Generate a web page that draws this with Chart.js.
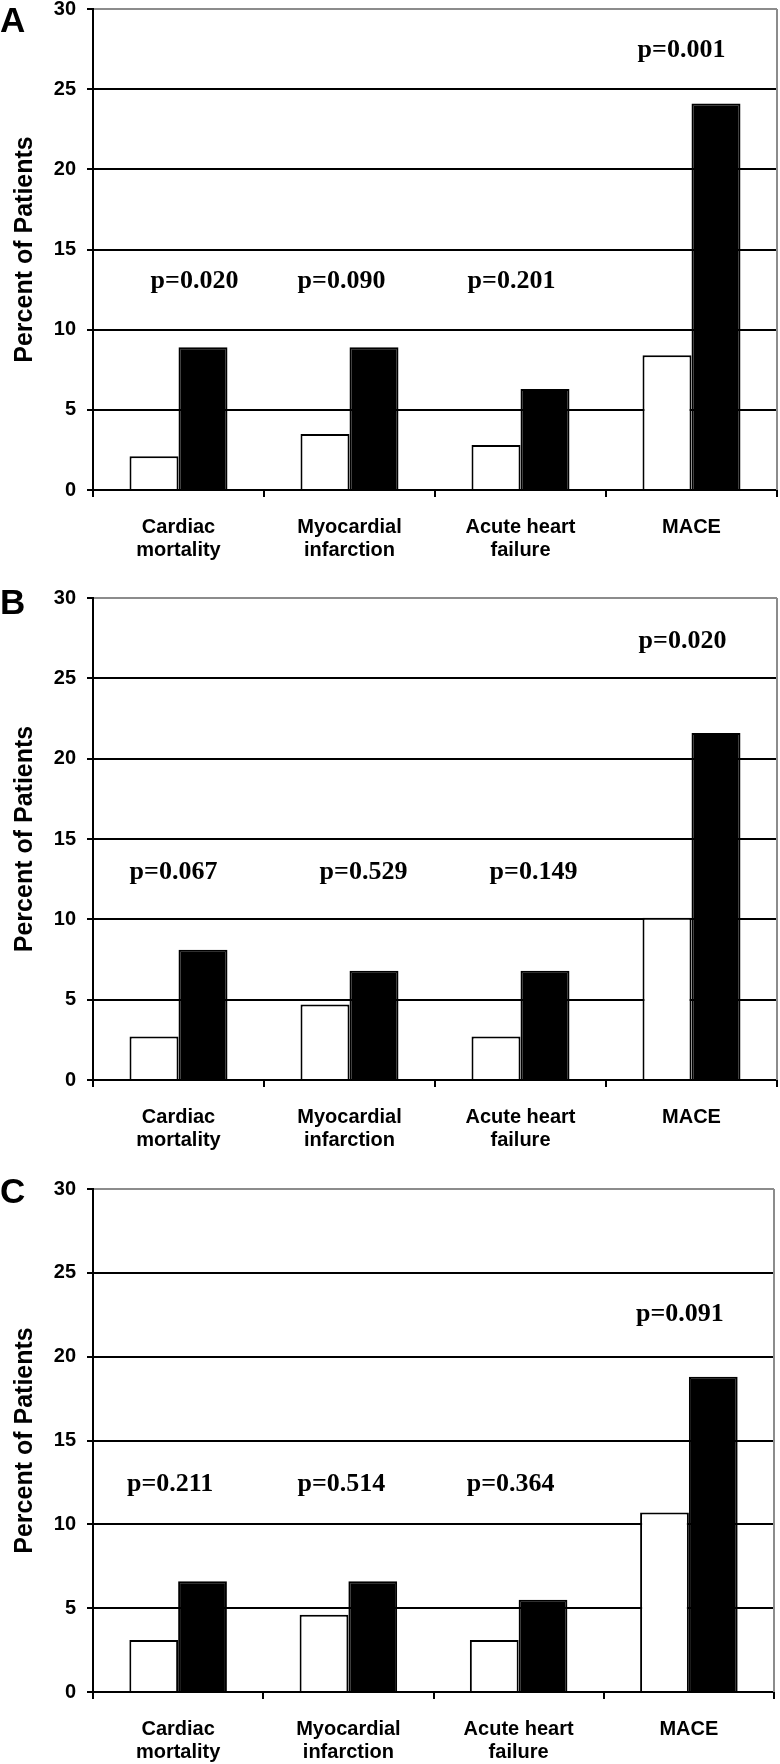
<!DOCTYPE html>
<html><head><meta charset="utf-8">
<script src="https://cdn.jsdelivr.net/npm/chart.js@4.4.0/dist/chart.umd.min.js"></script>
<style>
html,body{margin:0;padding:0;background:#fff;width:780px;height:1764px;overflow:hidden}
.panel{position:absolute;left:0;width:780px}
.panel canvas{display:block}
.letter{position:absolute;left:0;font:bold 35px "Liberation Sans",Arial,sans-serif;line-height:1;color:#000}
</style></head><body>
<div class="panel" style="top:0"><canvas id="cA"></canvas></div>
<div class="panel" style="top:560px"><canvas id="cB"></canvas></div>
<div class="panel" style="top:1160px"><canvas id="cC"></canvas></div>
<div class="letter" style="top:2px">A</div>
<div class="letter" style="top:584px">B</div>
<div class="letter" style="top:1173px">C</div>
<script>
// ---- data ----
const categories = [['Cardiac','mortality'], ['Myocardial','infarction'], ['Acute heart','failure'], 'MACE'];
const seriesNames = ['Group 1', 'Group 2'];
const yTicks = [0, 5, 10, 15, 20, 25, 30];

const whiteA = [2.1, 3.5, 2.8, 8.4];
const blackA = [8.9, 8.9, 6.3, 24.1];
const pA = ['p=0.020', 'p=0.090', 'p=0.201', 'p=0.001'];

const whiteB = [2.7, 4.7, 2.7, 10.1];
const blackB = [8.1, 6.8, 6.8, 21.6];
const pB = ['p=0.067', 'p=0.529', 'p=0.149', 'p=0.020'];

const whiteC = [3.1, 4.6, 3.1, 10.7];
const blackC = [6.6, 6.6, 5.5, 18.8];
const pC = ['p=0.211', 'p=0.514', 'p=0.364', 'p=0.091'];

// ---- rendering ----
Chart.defaults.color = '#000';
const SANS = '"Liberation Sans", Arial, sans-serif';
const SERIF = '"Liberation Serif", "Times New Roman", serif';

const pLabelPlugin = {
  id: 'pLabels',
  afterDatasetsDraw(chart, args, opts) {
    const {ctx} = chart;
    const x = chart.scales.x, y = chart.scales.y;
    const a = chart.chartArea;
    ctx.save();
    ctx.strokeStyle = '#8c8c8c'; ctx.lineWidth = 2;
    ctx.beginPath(); ctx.moveTo(a.right, a.top); ctx.lineTo(a.right, a.bottom); ctx.stroke();
    ctx.font = 'bold 26px ' + SERIF;
    ctx.fillStyle = '#000'; ctx.textAlign = 'center'; ctx.textBaseline = 'middle';
    opts.labels.forEach((t, i) => {
      ctx.fillText(t, x.getPixelForValue(i) + opts.dx[i], y.getPixelForValue(opts.at[i]));
    });
    ctx.restore();
  }
};

function makePanel(id, white, black, labels, cfg) {
  const canvas = document.getElementById(id);
  canvas.width = 780; canvas.height = cfg.height;
  canvas.style.width = '780px'; canvas.style.height = cfg.height + 'px';
  new Chart(canvas, {
    type: 'bar',
    data: {
      labels: categories,
      datasets: [
        {label: seriesNames[0], data: white, backgroundColor: '#fff', borderColor: '#000', borderWidth: 2},
        {label: seriesNames[1], data: black, backgroundColor: '#000', borderColor: '#000', borderWidth: 2}
      ]
    },
    options: {
      responsive: false, animation: false, devicePixelRatio: 1,
      layout: {padding: {top: cfg.padTop, right: cfg.padRight, bottom: 0, left: 0}},
      datasets: {bar: {categoryPercentage: 0.573, barPercentage: 1}},
      plugins: {
        legend: {display: false}, tooltip: {enabled: false},
        pLabels: {labels: labels, at: cfg.pAt, dx: cfg.pDx}
      },
      scales: {
        x: {
          offset: true,
          grid: {offset: true, drawOnChartArea: false, drawTicks: true, tickLength: 7, color: '#000', lineWidth: 2},
          border: {display: true, color: '#000', width: 2},
          ticks: {font: {family: SANS, weight: 'bold', size: 20, lineHeight: 1.15}, color: '#000', padding: 19, maxRotation: 0, autoSkip: false},
          afterFit: s => { s.height = cfg.xH; s.paddingLeft = 0; s.paddingRight = 0; }
        },
        y: {
          min: 0, max: 30,
          afterBuildTicks: s => { s.ticks = yTicks.map(v => ({value: v})); },
          grid: {color: c => (c.tick && c.tick.value === 30) ? '#8c8c8c' : '#000', lineWidth: 2, tickLength: 6, tickColor: '#000', drawTicks: true},
          border: {display: true, color: '#000', width: 2},
          ticks: {font: {family: SANS, weight: 'bold', size: 20}, color: '#000', padding: 11},
          title: {display: true, text: 'Percent of Patients', font: {family: SANS, weight: 'bold', size: 25}, color: '#000', padding: {top: 10, bottom: 0}},
          afterFit: s => { s.width = 93; s.paddingTop = 0; s.paddingBottom = 0; }
        }
      }
    },
    plugins: [pLabelPlugin]
  });
}

makePanel('cA', whiteA, blackA, pA, {height: 560, padTop: 9, padRight: 3, xH: 70,
  pAt: [13, 13, 13, 27.4], pDx: [16, -8, -9, -10]});
makePanel('cB', whiteB, blackB, pB, {height: 600, padTop: 38, padRight: 3, xH: 80,
  pAt: [12.9, 12.9, 12.9, 27.3], pDx: [-5, 14, 13, -9]});
makePanel('cC', whiteC, blackC, pC, {height: 604, padTop: 29, padRight: 6, xH: 72,
  pAt: [12.4, 12.4, 12.4, 22.5], pDx: [-8, -7, -8, -9]});
</script>
</body></html>
